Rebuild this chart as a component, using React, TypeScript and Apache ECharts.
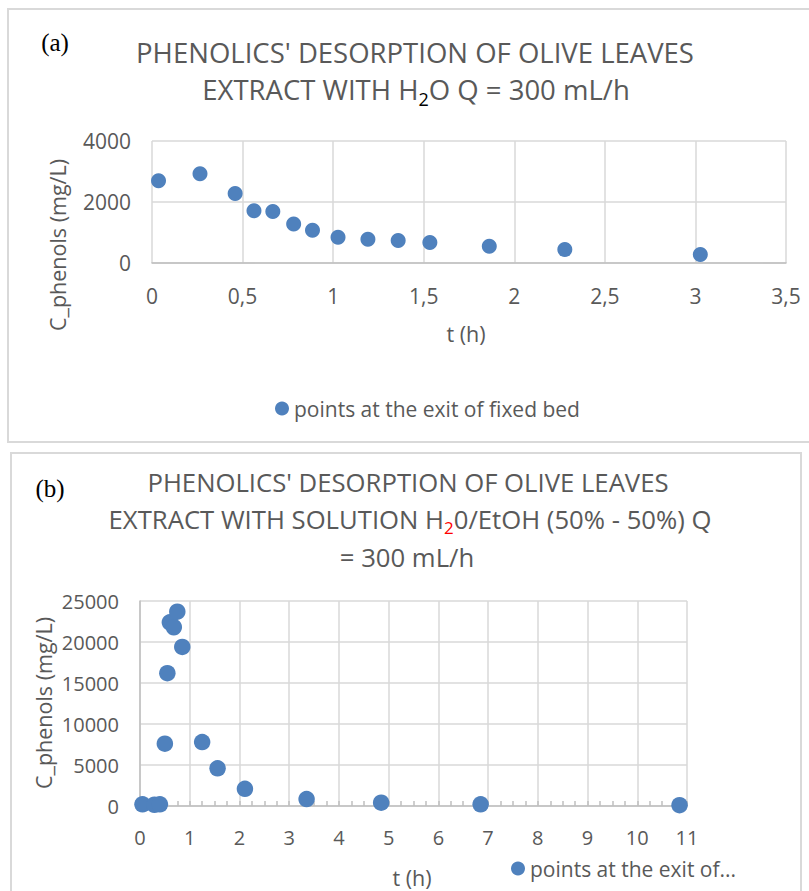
import React, { useEffect, useRef } from "react";
import * as echarts from "echarts";

// Panel (a): H2O desorption
const tA = [0.036, 0.265, 0.459, 0.563, 0.667, 0.782, 0.886, 1.027, 1.192, 1.359, 1.534, 1.862, 2.279, 3.027];
const cA = [2700, 2930, 2280, 1710, 1690, 1280, 1075, 845, 780, 735, 670, 550, 440, 275];
const xTicksA = { min: 0, max: 3.5, interval: 0.5 };
const yTicksA = { min: 0, max: 4000, interval: 2000 };

// Panel (b): H2O/EtOH desorption
const tB = [0.05, 0.29, 0.4, 0.5, 0.55, 0.6, 0.68, 0.75, 0.85, 1.25, 1.56, 2.11, 3.35, 4.85, 6.85, 10.85];
const cB = [200, 150, 200, 7600, 16200, 22400, 21800, 23700, 19400, 7800, 4600, 2100, 850, 400, 200, 100];
const xTicksB = { min: 0, max: 11, interval: 1 };
const yTicksB = { min: 0, max: 25000, interval: 5000 };

const seriesNameA = "points at the exit of fixed bed";
const seriesNameB = "points at the exit of fixed bed (H2O/EtOH)";
const legendTextB = "points at the exit of...";

const FONT = '"Open Sans", sans-serif';
const GRAY = "#595959";
const BLUE = "#4F81BD";
const GRID = "#d9d9d9";
const AXIS = "#bfbfbf";

export default function App() {
  const ref = useRef<HTMLDivElement>(null);
  useEffect(() => {
    if (!ref.current) return;
    const chart = echarts.init(ref.current, undefined, { renderer: "svg" });
    const labelA = { color: GRAY, fontFamily: FONT, fontSize: 21 };
    const labelB = { color: GRAY, fontFamily: FONT, fontSize: 20 };
    const titleA = { fill: GRAY, fontFamily: FONT, fontSize: 27.5 };
    const titleB = { fill: GRAY, fontFamily: FONT, fontSize: 25.7 };
    chart.setOption({
      animation: false,
      backgroundColor: "#ffffff",
      grid: [
        { left: 152, top: 141, width: 634, height: 122 },
        { left: 140, top: 601, width: 547, height: 205 },
      ],
      xAxis: [
        {
          gridIndex: 0,
          type: "value",
          ...xTicksA,
          axisLine: { show: true, lineStyle: { color: AXIS, width: 1.5 } },
          axisTick: { show: false },
          splitLine: { show: true, lineStyle: { color: GRID, width: 1.5 } },
          axisLabel: { ...labelA, margin: 22, formatter: (v: number) => String(v).replace(".", ",") },
        },
        {
          gridIndex: 1,
          type: "value",
          ...xTicksB,
          axisLine: { show: true, lineStyle: { color: AXIS, width: 1.5 } },
          axisTick: { show: true, inside: true, length: 5, lineStyle: { color: AXIS, width: 1.5 } },
          minorTick: { show: true, splitNumber: 4, length: 5, lineStyle: { color: AXIS, width: 1.5 } },
          splitLine: { show: true, lineStyle: { color: GRID, width: 1.5 } },
          axisLabel: { ...labelB, margin: 21, formatter: (v: number) => String(v) },
        },
      ],
      yAxis: [
        {
          gridIndex: 0,
          type: "value",
          ...yTicksA,
          axisLine: { show: false },
          axisTick: { show: false },
          splitLine: { show: true, lineStyle: { color: GRID, width: 1.5 } },
          axisLabel: { ...labelA, margin: 21, formatter: (v: number) => String(v) },
        },
        {
          gridIndex: 1,
          type: "value",
          ...yTicksB,
          axisLine: { show: true, lineStyle: { color: AXIS, width: 1.5 } },
          axisTick: { show: false },
          splitLine: { show: true, lineStyle: { color: GRID, width: 1.5 } },
          axisLabel: { ...labelB, margin: 21, formatter: (v: number) => String(v) },
        },
      ],
      legend: [
        {
          data: [seriesNameA],
          left: 270,
          top: 393,
          icon: "circle",
          itemWidth: 14,
          itemHeight: 14,
          itemGap: 5,
          textStyle: { color: GRAY, fontFamily: FONT, fontSize: 21 },
        },
        {
          data: [seriesNameB],
          left: 506,
          top: 853,
          icon: "circle",
          itemWidth: 14,
          itemHeight: 14,
          textStyle: { color: GRAY, fontFamily: FONT, fontSize: 21 },
          formatter: () => legendTextB,
        },
      ],
      series: [
        {
          name: seriesNameA,
          type: "scatter",
          xAxisIndex: 0,
          yAxisIndex: 0,
          symbolSize: 15,
          itemStyle: { color: BLUE, opacity: 1 },
          data: tA.map((t, i) => [t, cA[i]]),
        },
        {
          name: seriesNameB,
          type: "scatter",
          xAxisIndex: 1,
          yAxisIndex: 1,
          symbolSize: 16.5,
          itemStyle: { color: BLUE, opacity: 1 },
          data: tB.map((t, i) => [t, cB[i]]),
        },
      ],
      graphic: [
        { type: "rect", shape: { x: 8, y: 9, width: 820, height: 433 }, style: { fill: "none", stroke: GRID, lineWidth: 2 }, z: -1 },
        { type: "rect", shape: { x: 11, y: 453, width: 790, height: 460 }, style: { fill: "none", stroke: GRID, lineWidth: 2 }, z: -1 },
        { type: "text", x: 55, y: 42, style: { text: "(a)", fill: "#000", fontFamily: '"Liberation Serif", serif', fontSize: 25, textAlign: "center", textVerticalAlign: "middle" } },
        { type: "text", x: 50, y: 488, style: { text: "(b)", fill: "#000", fontFamily: '"Liberation Serif", serif', fontSize: 25, textAlign: "center", textVerticalAlign: "middle" } },
        { type: "text", x: 415, y: 52, style: { ...titleA, text: "PHENOLICS' DESORPTION OF OLIVE LEAVES", textAlign: "center", textVerticalAlign: "middle" } },
        {
          type: "text", x: 416, y: 89,
          style: {
            ...titleA,
            text: "{n|EXTRACT WITH H}{s|2}{n|O Q = 300 mL/h}",
            textAlign: "center", textVerticalAlign: "middle",
            rich: {
              n: { fill: GRAY, fontFamily: FONT, fontSize: 27.5 },
              s: { fill: "#000", fontFamily: FONT, fontSize: 18, padding: [20, 0, 0, 0] },
            },
          },
        },
        { type: "text", x: 408, y: 482, style: { ...titleB, text: "PHENOLICS' DESORPTION OF OLIVE LEAVES", textAlign: "center", textVerticalAlign: "middle" } },
        {
          type: "text", x: 410, y: 519,
          style: {
            ...titleB,
            text: "{n|EXTRACT WITH SOLUTION H}{s|2}{n|0/EtOH (50% - 50%) Q}",
            textAlign: "center", textVerticalAlign: "middle",
            rich: {
              n: { fill: GRAY, fontFamily: FONT, fontSize: 25.7 },
              s: { fill: "#ff0000", fontFamily: FONT, fontSize: 17, padding: [17, 0, 0, 0] },
            },
          },
        },
        { type: "text", x: 407, y: 557, style: { ...titleB, text: "= 300 mL/h", textAlign: "center", textVerticalAlign: "middle" } },
        { type: "text", x: 466, y: 333, style: { text: "t (h)", fill: GRAY, fontFamily: FONT, fontSize: 21.5, textAlign: "center", textVerticalAlign: "middle" } },
        { type: "text", x: 412, y: 877, style: { text: "t (h)", fill: GRAY, fontFamily: FONT, fontSize: 21.5, textAlign: "center", textVerticalAlign: "middle" } },
        { type: "text", x: 57, y: 245, rotation: Math.PI / 2, style: { text: "C_phenols (mg/L)", fill: GRAY, fontFamily: FONT, fontSize: 21.5, textAlign: "center", textVerticalAlign: "middle" } },
        { type: "text", x: 43, y: 703, rotation: Math.PI / 2, style: { text: "C_phenols (mg/L)", fill: GRAY, fontFamily: FONT, fontSize: 21.5, textAlign: "center", textVerticalAlign: "middle" } },
      ],
    });
    return () => chart.dispose();
  }, []);
  return <div ref={ref} style={{ position: "absolute", left: 0, top: 0, width: 809, height: 891 }} />;
}
